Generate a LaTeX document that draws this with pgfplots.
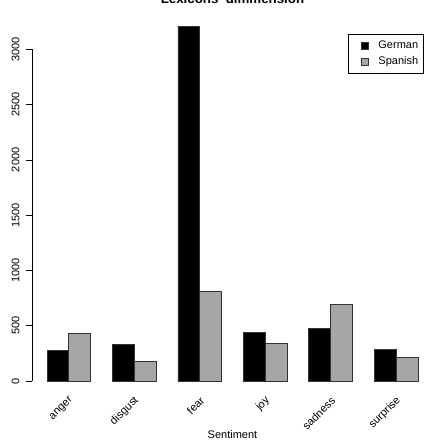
\documentclass[border=0pt]{standalone}
\usepackage{pgfplots}
\pgfplotsset{compat=1.18}
\usepackage{fontspec}
\setmainfont{Liberation Sans}
\definecolor{spanishgray}{RGB}{166,166,166}
\begin{document}
\begin{tikzpicture}
\useasboundingbox (0pt,0pt) rectangle (427pt,441pt);
\begin{axis}[
  at={(32.2pt,45.8pt)}, anchor=south west,
  scale only axis, width=400.6pt, height=382.2pt,
  xmin=0.32, xmax=18.68, ymin=-128, ymax=3328,
  axis line style={draw=none},
  xtick={2,5,8,11,14,17},
  xticklabels={anger,disgust,fear,joy,sadness,surprise},
  xtick style={draw=none},
  xticklabel style={xshift=2.7pt, rotate=45, anchor=east, inner sep=0pt},
  xticklabel shift={-3pt},
  ytick={0,500,...,3000},
  ytick pos=left,
  tick align=outside,
  major tick length=6.5pt,
  ytick style={black, line width=0.6pt},
  yticklabel style={rotate=90, anchor=south, inner sep=0pt},
  yticklabel shift={6pt},
  /pgf/number format/assume math mode=true,
  /pgf/number format/1000 sep={},
  ticklabel style={font=\fontsize{11}{13}\selectfont},
  clip=false,
  legend cell align=left,
  legend style={at={(0.978,0.945)}, anchor=north east, draw=black, line width=0.6pt,
    font=\fontsize{11}{13}\selectfont, inner xsep=3.5pt, inner ysep=4.5pt,
    column sep=8pt, row sep=1pt,
    nodes={inner xsep=2pt, inner ysep=2pt, text height=8pt, text depth=2.5pt}},
]
\addplot[ybar, bar width=1, bar shift=0pt, fill=black, draw=black!80, line width=0.9pt,
  legend image code/.code={\path[draw=none,fill=none] (0pt,0pt) -- (16.1pt,0pt);\draw[fill=black,draw=black!80,line width=0.6pt] (9.5pt,-3.3pt) rectangle (16.1pt,3.3pt);}]
  coordinates {(1.5,280) (4.5,328) (7.5,3210) (10.5,443) (13.5,476) (16.5,289)};
\addlegendentry{German}
\addplot[ybar, bar width=1, bar shift=0pt, fill=spanishgray, draw=black!80, line width=0.9pt,
  legend image code/.code={\path[draw=none,fill=none] (0pt,0pt) -- (16.1pt,0pt);\draw[fill=spanishgray,draw=black!80,line width=0.6pt] (9.5pt,-3.3pt) rectangle (16.1pt,3.3pt);}]
  coordinates {(2.5,434) (5.5,181) (8.5,807) (11.5,337) (14.5,690) (17.5,217)};
\addlegendentry{Spanish}
\draw[black, line width=0.6pt] (axis cs:0.32,0) -- (axis cs:0.32,3000);
\end{axis}
\node[anchor=base, font=\bfseries\fontsize{13.3}{15}\selectfont] at (232.5pt,437pt) {Lexicons' dimmension};
\node[anchor=base, font=\fontsize{11}{13}\selectfont] at (232.5pt,2pt) {Sentiment};
\end{tikzpicture}
\end{document}
